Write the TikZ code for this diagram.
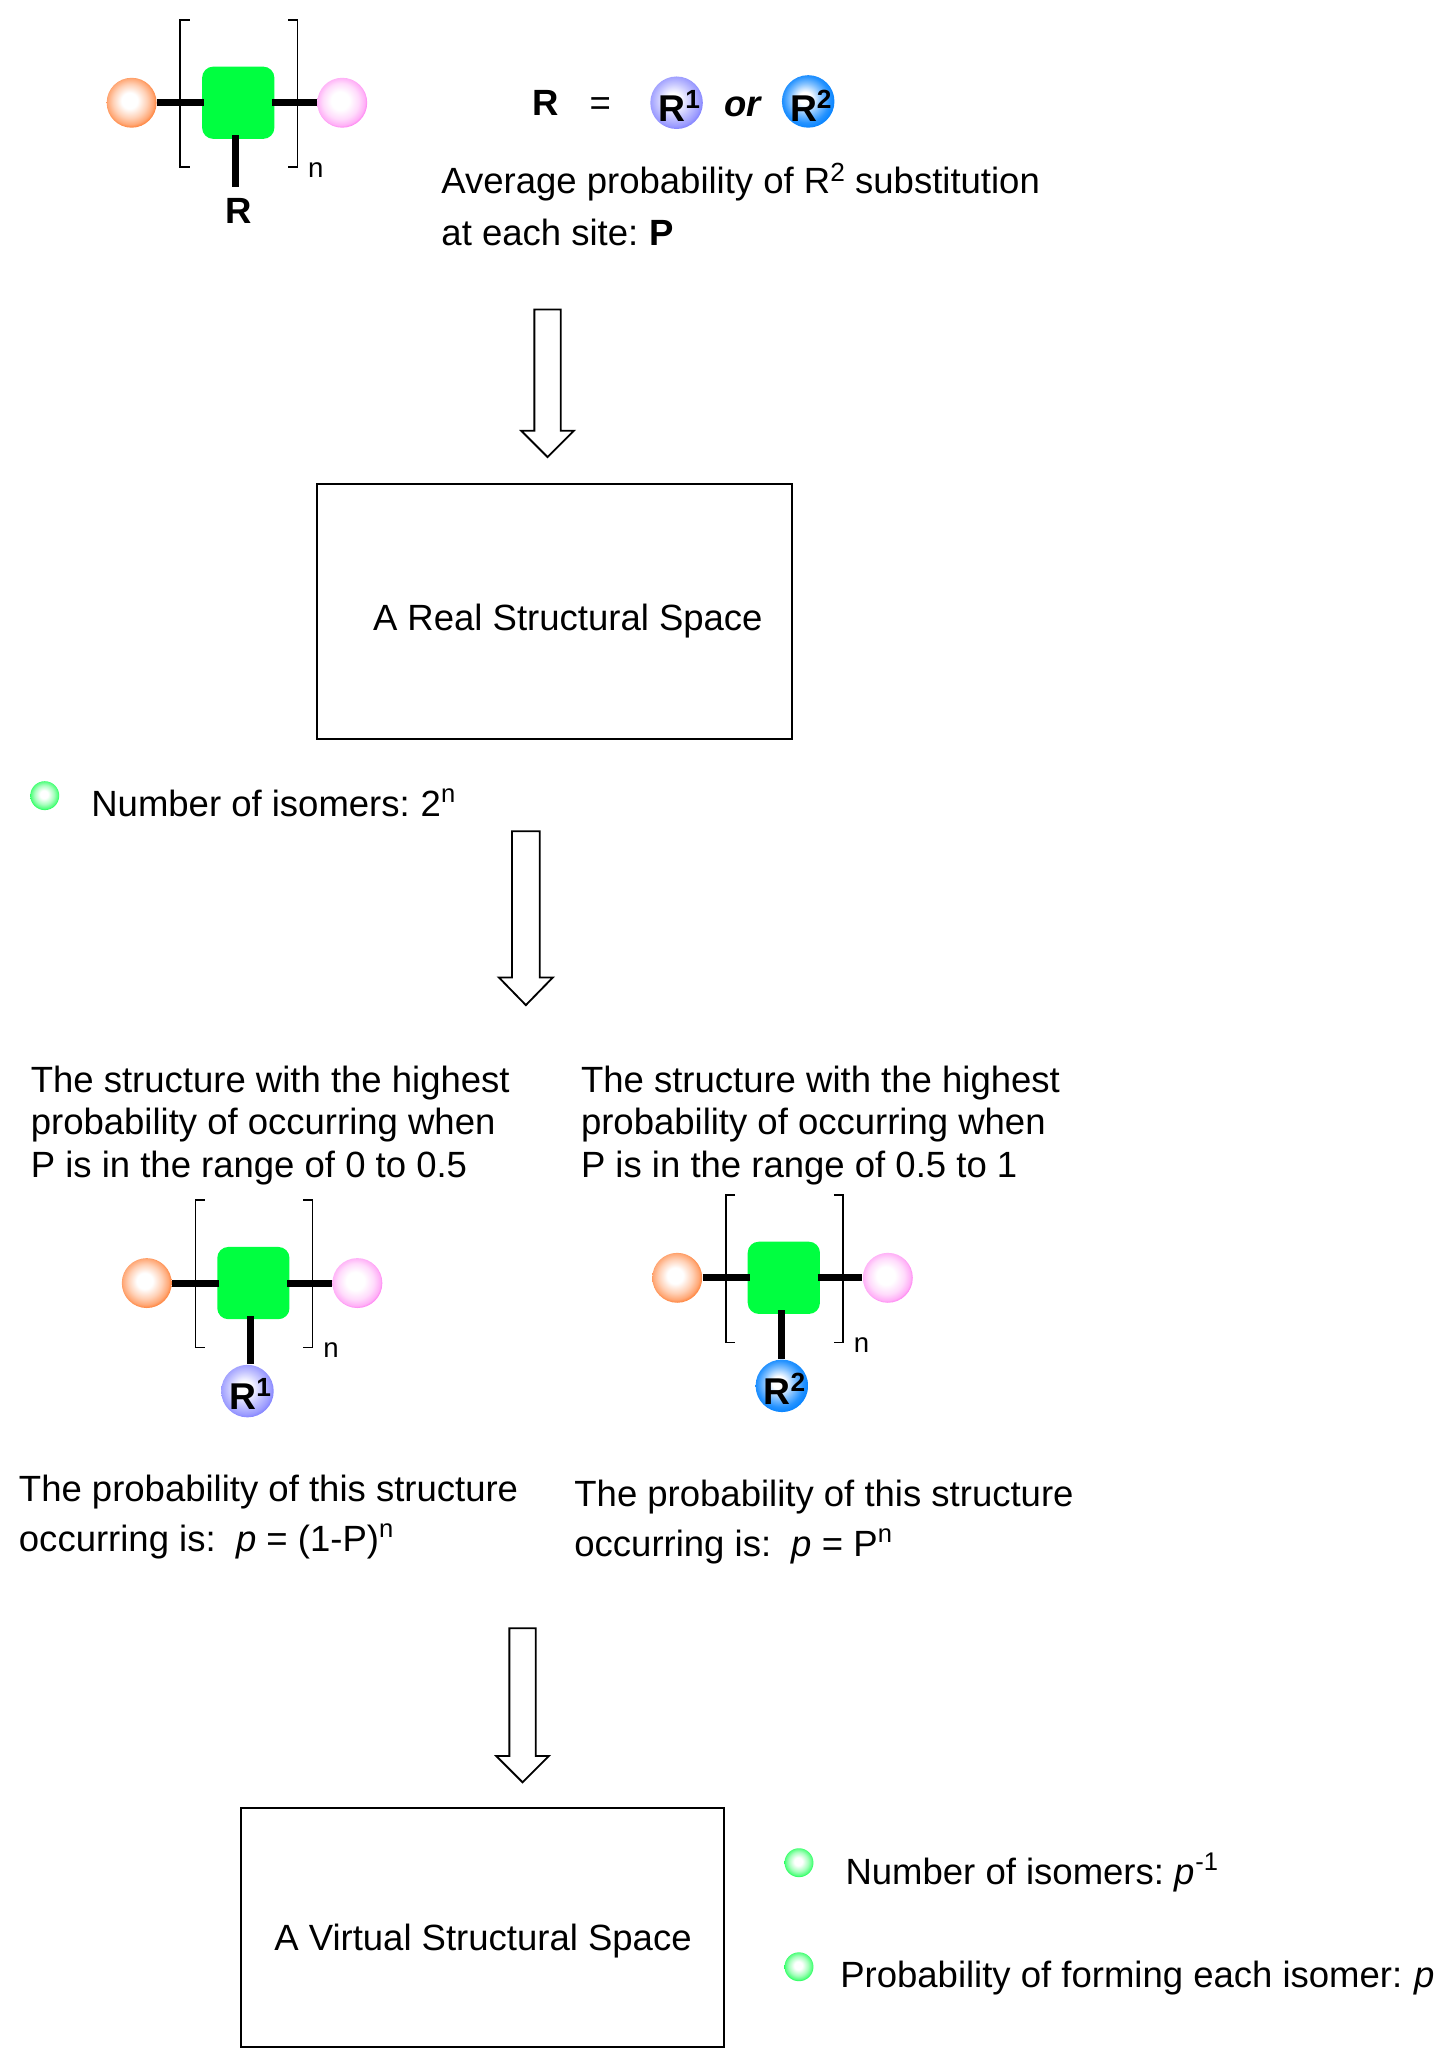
\documentclass[tikz,border=0pt]{standalone}
\usepackage{fontspec}
\setmainfont{Liberation Sans}
\usetikzlibrary{calc}
\definecolor{ballgreen}{HTML}{00FF40}
\definecolor{orangeedge}{HTML}{FF7A2E}
\definecolor{pinkedge}{HTML}{FF70F0}
\definecolor{rone}{HTML}{7070FF}
\definecolor{rtwo}{HTML}{0080FF}
\pgfdeclareradialshading{orangeball}{\pgfpoint{-2.5bp}{2.5bp}}{color(0bp)=(white);color(8bp)=(white);color(17bp)=(orangeedge!35!white);color(23bp)=(orangeedge!65!white);color(27bp)=(orangeedge);color(50bp)=(orangeedge)}
\pgfdeclareradialshading{pinkball}{\pgfpoint{-2.5bp}{2.5bp}}{color(0bp)=(white);color(9bp)=(white);color(18bp)=(pinkedge!25!white);color(24bp)=(pinkedge!55!white);color(27bp)=(pinkedge);color(50bp)=(pinkedge)}
\pgfdeclareradialshading{roneball}{\pgfpoint{-3.5bp}{3.5bp}}{color(0bp)=(white);color(6bp)=(white);color(16bp)=(rone!40!white);color(24bp)=(rone!70!white);color(29bp)=(rone);color(50bp)=(rone)}
\pgfdeclareradialshading{rtwoball}{\pgfpoint{-3.5bp}{3.5bp}}{color(0bp)=(white);color(6bp)=(white);color(15bp)=(rtwo!50!white);color(22bp)=(rtwo!85!white);color(28bp)=(rtwo);color(50bp)=(rtwo)}
\pgfdeclareradialshading{greenball}{\pgfpoint{-1.5bp}{2.5bp}}{color(0bp)=(white);color(7bp)=(white);color(17bp)=(ballgreen!35!white);color(23bp)=(ballgreen!65!white);color(27bp)=(ballgreen);color(50bp)=(ballgreen)}
\tikzset{
  x=0.5012pt,y=-0.5016pt,
  txt/.style={anchor=base west,inner sep=0pt,font=\fontsize{13.9}{16}\selectfont},
  boldtxt/.style={inner sep=0pt,font=\fontsize{13.9}{16}\selectfont\bfseries},
  balltxt/.style={anchor=base,inner sep=0pt,font=\fontsize{14.2}{16}\selectfont\bfseries},
  ballbase/.style={circle,inner sep=0pt,minimum size=19pt},
  orangeb/.style={ballbase,shading=orangeball},
  pinkb/.style={ballbase,shading=pinkball},
  roneb/.style={ballbase,minimum size=20pt,shading=roneball},
  rtwob/.style={ballbase,minimum size=20pt,shading=rtwoball},
  bullet/.style={circle,inner sep=0pt,minimum size=11pt,shading=greenball},
  unit/.style={rectangle,rounded corners=4.2pt,fill=ballgreen,inner sep=0pt,minimum size=27.5pt},
  bond/.style={line width=2.7pt,black},
  subbond/.style={line width=2.7pt,black},
  bracket/.style={line width=0.65pt,black},
  spacebox/.style={draw=black,line width=0.75pt,fill=none},
  blockarrow/.style={draw=black,line width=0.7pt,fill=white,line join=miter},
  nlabel/.style={inner sep=0pt,font=\fontsize{10.5}{11}\selectfont},
}
\newcommand{\supr}[1]{\textsuperscript{#1}}
\newcommand{\suprbig}[1]{\raisebox{4.6pt}{\fontsize{10}{10}\selectfont #1}}
\newcommand{\ballsup}[1]{\raisebox{4.8pt}{\fontsize{10}{10}\selectfont #1}}
% prefix, centre x, centre y
\newcommand{\molecule}[3]{%
  \node[unit] (#1u) at (#2,#3) {};
  \node[orangeb] (#1o) at ($(#2,#3)+(-81,0)$) {};
  \node[pinkb] (#1k) at ($(#2,#3)+(79,0)$) {};
  \draw[bond,shorten >=-1pt] (#1o) -- (#1u);
  \draw[bond,shorten <=-1pt] (#1u) -- (#1k);
  \draw[bracket] ($(#2,#3)+(-37,-63)$) -- ++(-7,0) -- ++(0,112) -- ++(7,0);
  \draw[bracket] ($(#2,#3)+(38,-63)$) -- ++(7,0) -- ++(0,112) -- ++(-7,0);
  \node[nlabel] (#1n) at ($(#2,#3)+(59,51)$) {n};
}
% shaft left, shaft right, top, shoulder, tip
\newcommand{\blockdown}[5]{%
  \draw[blockarrow] (#1,#3) -- (#2,#3) -- (#2,#4) -- ({#2+10},#4) -- ({(#1+#2)/2},#5) -- ({#1-10},#4) -- (#1,#4) -- cycle;
}
\begin{document}
\begin{tikzpicture}
\useasboundingbox (0,0) rectangle (1102.4,1569.1);
% top molecule
\molecule{a}{181}{78}
\node[boldtxt] (aR) at (181,160) {R};
\coordinate (as) at ($(au.south)+(-2,-3)$);
\draw[subbond] (as) -- (as |- 0,142);
% R definition
\node[boldtxt] (Rdef) at (414.5,78) {R};
\node[inner sep=0pt,font=\fontsize{13.9}{16}\selectfont] (eq) at (456,81) {=};
\node[roneb] (r1) at (514,78) {};
\node[balltxt] (r1t) at (516,92) {R\ballsup{1}};
\node[boldtxt,font=\fontsize{13.9}{16}\selectfont\bfseries\itshape] (ortxt) at (564,81) {or};
\node[rtwob] (r2) at (614,77) {};
\node[balltxt] (r2t) at (616,92) {R\ballsup{2}};
\node[txt] (avg1) at (335,147) {Average probability of R\suprbig{2} substitution};
\node[txt] (avg2) at (335,186) {at each site:\kern-1pt{} \textbf{P}};
\blockdown{406}{426}{235}{327}{347}
% real space
\node[spacebox,anchor=north west,inner sep=0pt,minimum width=181pt,minimum height=96.8pt] (real) at (240,367) {};
\node[txt] (realt) at (283,478.5) {A Real Structural Space};
\node[bullet] (b1) at (34,604) {};
\node[txt] (iso1) at (69,619.5) {Number of isomers:\kern-1pt{} 2\supr{n}};
\blockdown{389}{410}{631}{742}{763}
% left column
\node[txt] (l1) at (23,829.5) {The structure with the highest};
\node[txt] (l2) at (23,861.5) {probability of occurring when};
\node[txt] (l3) at (23,893.5) {P is in the range of 0 to 0.5};
\molecule{b}{192.5}{974}
\node[roneb] (br) at (188,1056) {};
\node[balltxt] (brt) at (190,1070) {R\ballsup{1}};
\coordinate (bs) at ($(bu.south)+(-2,-3)$);
\draw[subbond] (bs) -- (bs |- br.north);
\node[txt] (lp1) at (14,1139.5) {The probability of this structure};
\node[txt] (lp2) at (14,1177.5) {occurring is:\ \ \textit{p} = (1-P)\supr{n}};
% right column
\node[txt] (r1l) at (441,829.5) {The structure with the highest};
\node[txt] (r2l) at (441,861.5) {probability of occurring when};
\node[txt] (r3l) at (441,893.5) {P is in the range of 0.5 to 1};
\molecule{c}{595.5}{970}
\node[rtwob] (cr) at (594,1052) {};
\node[balltxt] (crt) at (596,1066) {R\ballsup{2}};
\coordinate (cs) at ($(cu.south)+(-2,-3)$);
\draw[subbond] (cs) -- (cs |- cr.north);
\node[txt] (rp1) at (436,1143.5) {The probability of this structure};
\node[txt] (rp2) at (436,1181.5) {occurring is:\ \ \textit{p} = P\supr{n}};
\blockdown{387}{407}{1236}{1333}{1353}
% virtual space
\node[spacebox,anchor=north west,inner sep=0pt,minimum width=184pt,minimum height=90.8pt] (virt) at (182,1372) {};
\node[txt] (virtt) at (208,1480.5) {A Virtual Structural Space};
\node[bullet] (b2) at (607,1414) {};
\node[txt] (iso2) at (642,1430.5) {Number of isomers:\kern-1pt{} \textit{p}\supr{-1}};
\node[bullet] (b3) at (607,1493) {};
\node[txt] (iso3) at (638,1508.5) {Probability of forming each isomer:\kern-0.5pt{} \textit{p}};
\end{tikzpicture}
\end{document}
